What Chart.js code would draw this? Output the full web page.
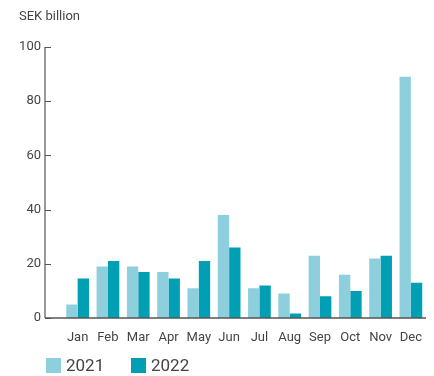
<!DOCTYPE html>
<html>
<head>
<meta charset="utf-8">
<script src="https://cdn.jsdelivr.net/npm/chart.js@4/dist/chart.umd.min.js"></script>
<style>
  html, body { margin: 0; padding: 0; background: #fff; }
  #wrap { width: 434px; height: 376px; position: relative; }
</style>
</head>
<body>
<div id="wrap"><canvas id="monthlyChart"></canvas></div>
<script>
const months = ['Jan', 'Feb', 'Mar', 'Apr', 'May', 'Jun', 'Jul', 'Aug', 'Sep', 'Oct', 'Nov', 'Dec'];
const values2021 = [5, 19, 19, 17, 11, 38, 11, 9, 23, 16, 22, 89];
const values2022 = [14.6, 21, 17, 14.6, 21, 26, 12, 1.7, 8, 10, 23, 13];
const yTicks = [0, 20, 40, 60, 80, 100];

const lightTeal = '#8dcfdc';
const darkTeal = '#009fb4';
const axisColor = '#555555';
const textColor = '#444444';
const fontFamily = 'Roboto, "Liberation Sans", sans-serif';

// axis lines, unit label and legend drawn by hand
const decorations = {
    id: 'decorations',
    afterDraw(chart) {
        const c = chart.ctx;
        const y = chart.scales.y;
        const area = chart.chartArea;
        const axisX = 45;
        const top = y.getPixelForValue(yTicks[yTicks.length - 1]);
        const base = y.getPixelForValue(0);

        c.save();
        c.strokeStyle = axisColor;
        c.lineWidth = 1.2;
        c.beginPath();
        c.moveTo(axisX, top);
        c.lineTo(axisX, base);
        yTicks.forEach(function (v) {
            const py = Math.round(y.getPixelForValue(v)) + 0.5;
            c.moveTo(axisX, py);
            c.lineTo(axisX + 6, py);
        });
        c.stroke();

        c.lineWidth = 1.6;
        c.beginPath();
        c.moveTo(axisX, base);
        c.lineTo(area.right, base);
        c.stroke();

        c.fillStyle = textColor;
        c.font = '13px ' + fontFamily;
        c.textBaseline = 'middle';
        c.textAlign = 'left';
        c.fillText('SEK billion', 19, 17);

        c.font = '17px ' + fontFamily;
        let lx = 46;
        chart.data.datasets.forEach(function (ds) {
            c.fillStyle = ds.backgroundColor;
            c.fillRect(lx, 358, 15, 15);
            c.fillStyle = textColor;
            c.fillText(ds.label, lx + 20, 366.5);
            lx += 85;
        });
        c.restore();
    }
};

new Chart(document.getElementById('monthlyChart'), {
    type: 'bar',
    data: {
        labels: months,
        datasets: [{
            label: '2021',
            data: values2021,
            backgroundColor: lightTeal,
            categoryPercentage: 0.75,
            barPercentage: 1.0
        }, {
            label: '2022',
            data: values2022,
            backgroundColor: darkTeal,
            categoryPercentage: 0.75,
            barPercentage: 1.0
        }]
    },
    options: {
        responsive: true,
        maintainAspectRatio: false,
        animation: false,
        layout: {
            padding: { top: 47, left: 0, right: 0, bottom: 0 }
        },
        plugins: {
            legend: { display: false },
            tooltip: { enabled: false }
        },
        scales: {
            x: {
                grid: { display: false, drawTicks: false },
                border: { display: false },
                ticks: {
                    color: textColor,
                    font: { family: fontFamily, size: 13 },
                    padding: 12,
                    maxRotation: 0
                },
                afterFit: function (scale) { scale.height = 58; }
            },
            y: {
                min: 0,
                max: 100,
                grid: { display: false, drawTicks: false },
                border: { display: false },
                ticks: {
                    stepSize: 20,
                    color: textColor,
                    font: { family: fontFamily, size: 13 },
                    padding: 21.5
                },
                afterFit: function (scale) { scale.width = 62.5; }
            }
        }
    },
    plugins: [decorations]
});
</script>
</body>
</html>
